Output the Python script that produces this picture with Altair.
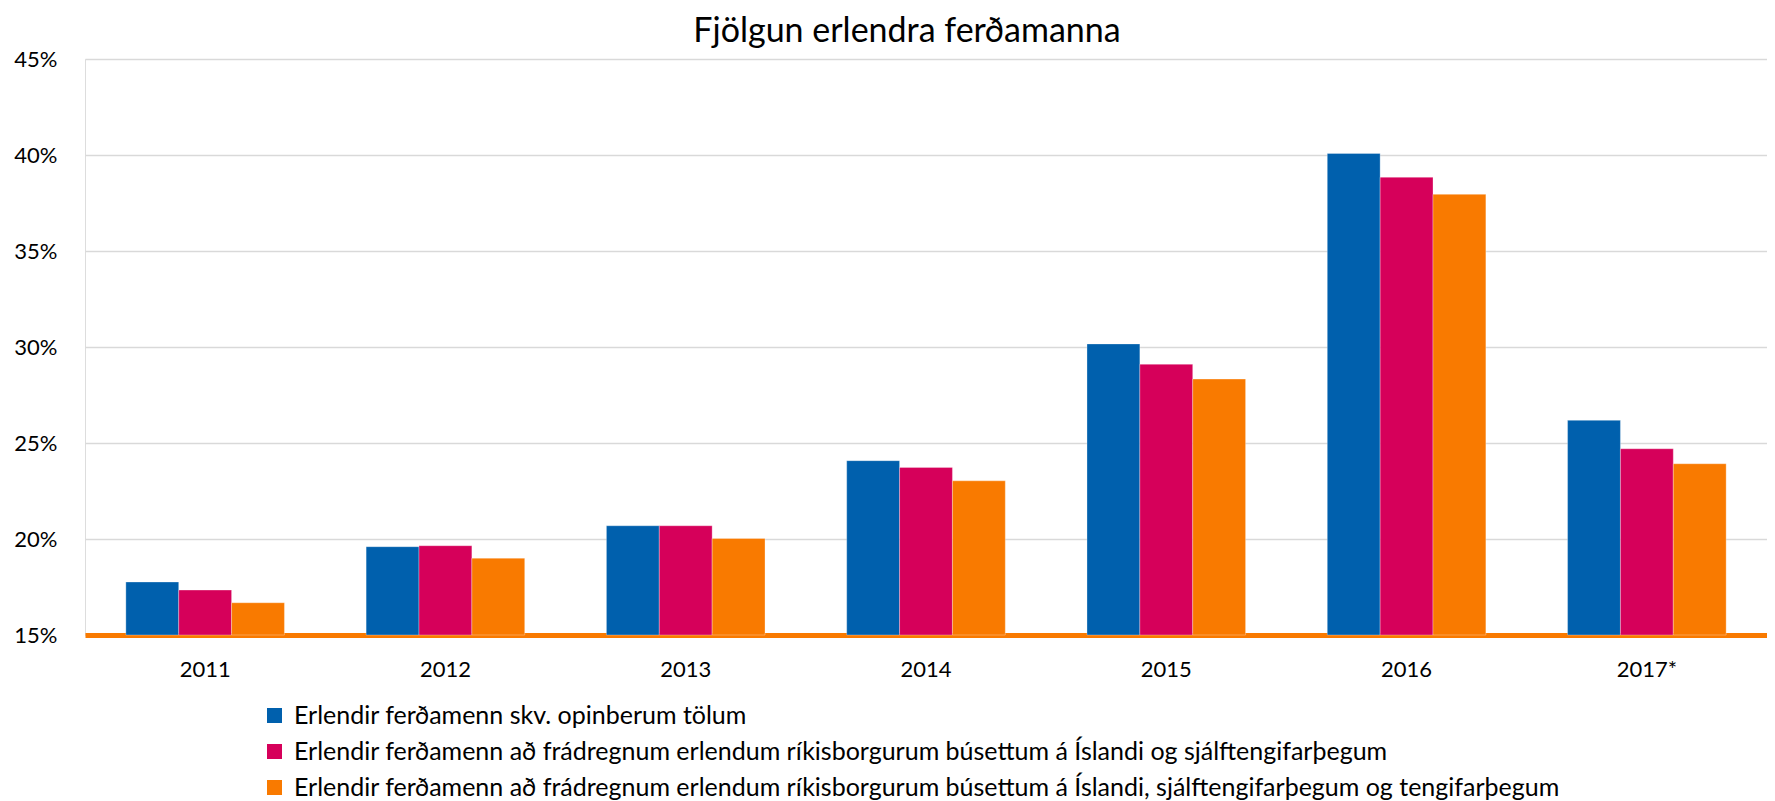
import altair as alt
import pandas as pd

title = "Fjölgun erlendra ferðamanna"
years = ["2011", "2012", "2013", "2014", "2015", "2016", "2017*"]
series = [
    "Erlendir ferðamenn skv. opinberum tölum",
    "Erlendir ferðamenn að frádregnum erlendum ríkisborgurum búsettum á Íslandi og sjálftengifarþegum",
    "Erlendir ferðamenn að frádregnum erlendum ríkisborgurum búsettum á Íslandi, sjálftengifarþegum og tengifarþegum",
]
v_official = [17.76, 19.60, 20.69, 24.08, 30.16, 40.08, 26.18]
v_excl_self = [17.34, 19.65, 20.69, 23.73, 29.10, 38.84, 24.70]
v_excl_all = [16.68, 19.00, 20.03, 23.03, 28.33, 37.95, 23.92]
colors = ["#0060AD", "#D6005A", "#F97A00"]

rows = []
for s, vals in zip(series, [v_official, v_excl_self, v_excl_all]):
    for y, v in zip(years, vals):
        rows.append({"year": y, "series": s, "value": v / 100.0})
df = pd.DataFrame(rows)

FONT = "Lato"

bars = alt.Chart(df).mark_bar(stroke="white", strokeWidth=0.5, strokeOpacity=0.6).encode(
    x=alt.X("year:N", sort=years, title=None,
            scale=alt.Scale(paddingInner=0.34, paddingOuter=0.17),
            axis=alt.Axis(labelAngle=0, labelFontSize=22, labelColor="#000000",
                          labelFont=FONT, labelPadding=24, ticks=False,
                          domainColor="#F97A00", domainWidth=5, grid=False)),
    xOffset=alt.XOffset("series:N", sort=series),
    y=alt.Y("value:Q", title=None,
            scale=alt.Scale(domain=[0.15, 0.45], zero=False, nice=False),
            axis=alt.Axis(format=".0%", values=[0.15, 0.20, 0.25, 0.30, 0.35, 0.40, 0.45],
                          labelFontSize=22, labelColor="#000000", labelFont=FONT,
                          labelPadding=28, ticks=False, domain=False,
                          gridColor="#D9D9D9", gridWidth=1.5)),
    y2=alt.datum(0.15),
    color=alt.Color("series:N", sort=series, title=None,
                    scale=alt.Scale(domain=series, range=colors),
                    legend=alt.Legend(orient="none", legendX=177, legendY=644,
                                      direction="vertical", symbolType="square",
                                      symbolSize=225, symbolStrokeWidth=0,
                                      labelFontSize=25, labelFont=FONT,
                                      labelColor="#000000", labelLimit=0,
                                      rowPadding=10, padding=0, labelOffset=7)),
)

chart = bars.properties(
    width=1682,
    height=576,
    padding={"left": 77, "top": 51, "right": 0, "bottom": 166},
    autosize=alt.AutoSizeParams(type="none"),
    title=alt.TitleParams(title, fontSize=34, font=FONT, fontWeight="normal",
                          color="#000000", anchor="middle", offset=-1, dx=-19),
).configure_view(stroke=None).configure(background="white")

chart.save("out.html", embed_options={"renderer": "svg", "actions": False})
